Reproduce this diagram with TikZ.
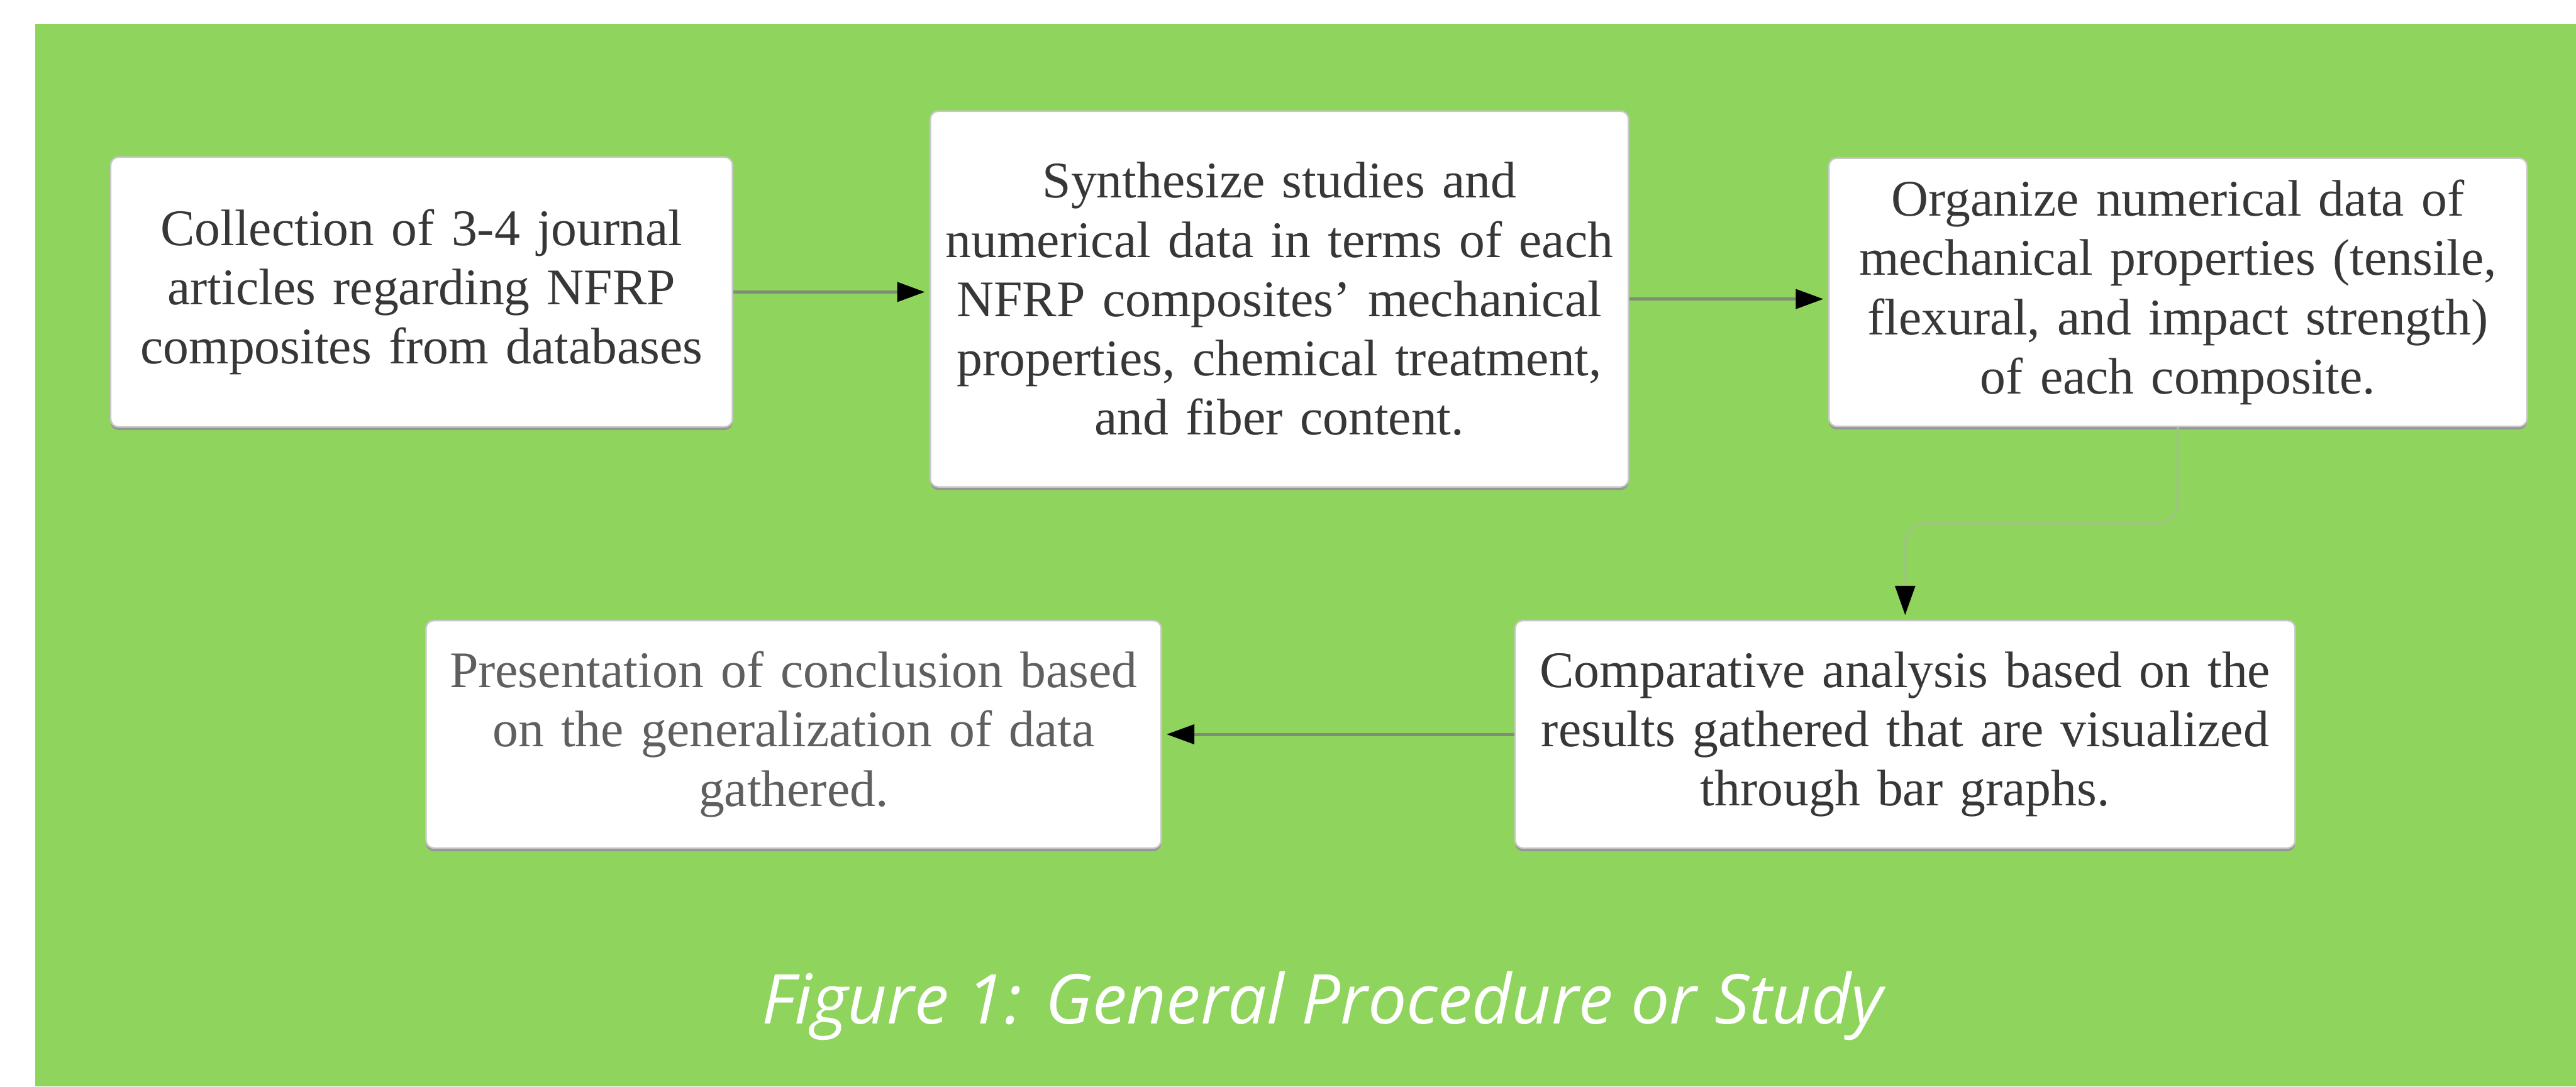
\documentclass[tikz,border=0pt]{standalone}
\usepackage{fontspec}
\setmainfont{Liberation Serif}
\newfontfamily\capfont{Open Sans}
\usetikzlibrary{arrows.meta,shadows}
\definecolor{bggreen}{RGB}{143,212,92}
\definecolor{boxline}{RGB}{200,200,200}
\definecolor{boxshadow}{RGB}{150,150,150}
\definecolor{txtdark}{RGB}{55,55,55}
\definecolor{txtlight}{RGB}{95,95,95}
\definecolor{arrline}{RGB}{128,140,118}
\definecolor{elbowline}{RGB}{157,197,128}
\tikzset{
  procbox/.style={draw=boxline, line width=0.03cm, fill=white, rounded corners=0.15cm,
    align=center, inner sep=0pt, text=txtdark,
    font=\fontsize{28pt}{32.3pt}\selectfont,
    drop shadow={shadow xshift=0cm, shadow yshift=-0.06cm, fill=boxshadow, opacity=1}},
  flowarrow/.style={draw=arrline, line width=0.06cm,
    -{Triangle[length=0.53cm,width=0.37cm,fill=black,color=black]}, shorten >=0.09cm},
  elbowarrow/.style={draw=elbowline, line width=0.05cm, rounded corners=0.4cm,
    -{Triangle[length=0.56cm,width=0.38cm,fill=black,color=black]}, shorten >=0.09cm},
  captext/.style={text=white, font=\capfont\itshape\fontsize{37.5pt}{42pt}\selectfont, inner sep=0pt}
}
\begin{document}
\begin{tikzpicture}
\useasboundingbox (0,0) rectangle (49.34,20.82);
\fill[white] (0,0) rectangle (49.34,20.82);
\fill[bggreen] (0.67,0) rectangle (49.34,20.36);

\node[procbox, minimum width=11.91cm, minimum height=5.17cm, text width=11.5cm] (b1) at (8.075,15.225)
  {Collection of 3-4 journal\\articles regarding NFRP\\composites from databases};
\node[procbox, minimum width=13.37cm, minimum height=7.20cm, text width=13cm] (b2) at (24.505,15.09)
  {Synthesize studies and\\numerical data in terms of each\\NFRP composites’ mechanical\\properties, chemical treatment,\\and fiber content.};
\node[procbox, minimum width=13.37cm, minimum height=5.14cm, text width=13cm] (b3) at (41.715,15.22)
  {Organize numerical data of\\mechanical properties (tensile,\\flexural, and impact strength)\\of each composite.};
\node[procbox, minimum width=14.94cm, minimum height=4.36cm, text width=14.5cm] (b4) at (36.49,6.75)
  {Comparative analysis based on the\\results gathered that are visualized\\through bar graphs.};
\node[procbox, minimum width=14.08cm, minimum height=4.36cm, text width=13.6cm, text=txtlight] (b5) at (15.20,6.75)
  {Presentation of conclusion based\\on the generalization of data\\gathered.};

\draw[flowarrow] (b1.east) -- (b1.east -| b2.west);
\draw[flowarrow] (b2.east) -- (b2.east -| b3.west);
\coordinate (e1) at (41.71,10.79);
\coordinate (e2) at (36.49,10.79);
\draw[elbowarrow] (b3.south) -- (e1) -- (e2) -- (b4.north);
\draw[flowarrow] (b4.west) -- (b4.west -| b5.east);

\node[captext, anchor=base] (cap) at (25.33,1.20) {Figure 1: General Procedure or Study};
\end{tikzpicture}
\end{document}
